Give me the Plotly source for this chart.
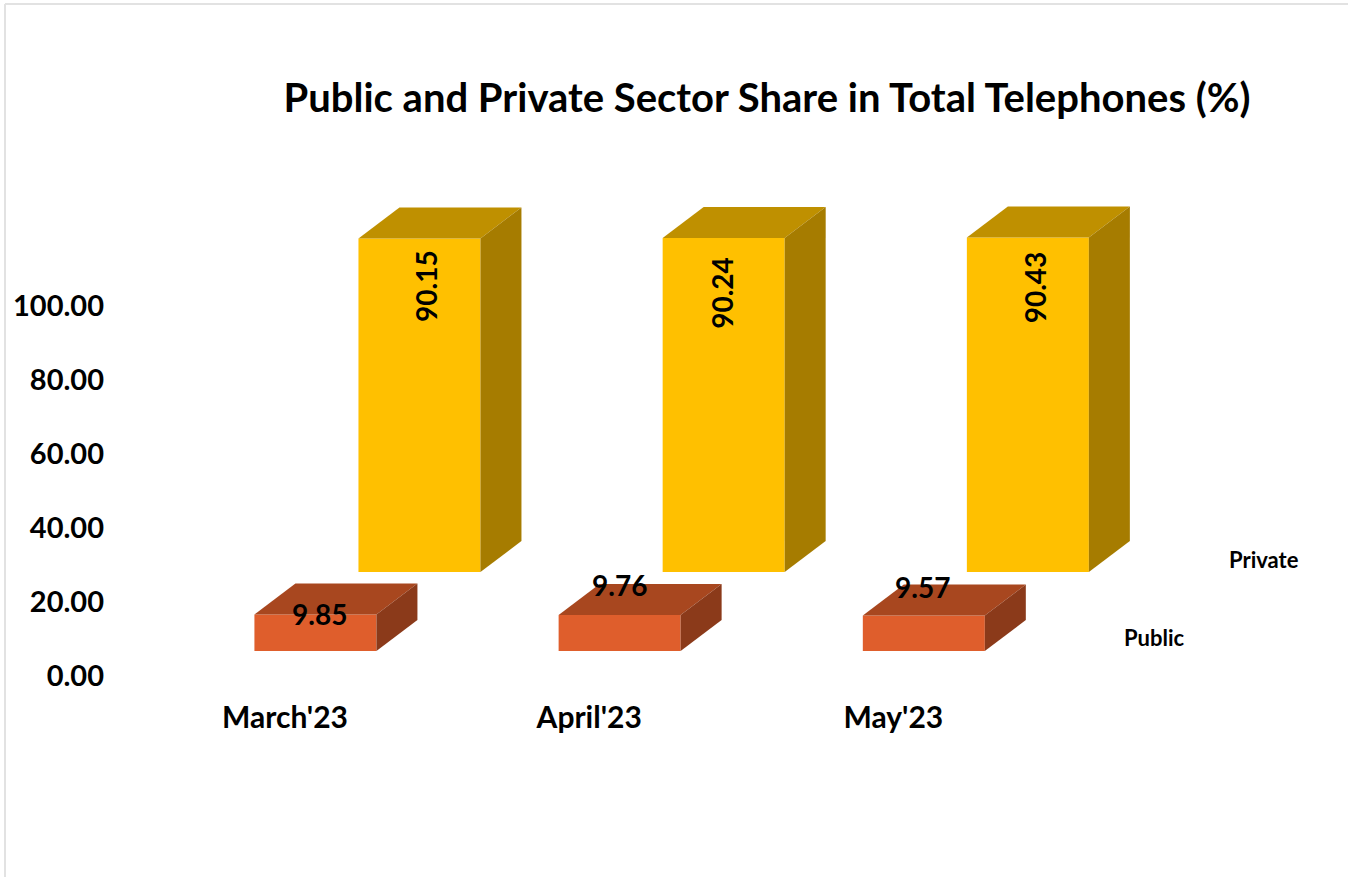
import plotly.graph_objects as go

months = ["March'23", "April'23", "May'23"]
public = [9.85, 9.76, 9.57]
private = [90.15, 90.24, 90.43]
series_names = ["Public", "Private"]
y_ticks = [0, 20, 40, 60, 80, 100]

W, H = 1348, 877
LEFT, BOTTOM_PX = 112, 693
ZERO_PX, PX_PER_VAL = 676, 3.7
CAT0_PX, PX_PER_CAT = 285, 304.2

x_range = [(LEFT - CAT0_PX) / PX_PER_CAT, (W - CAT0_PX) / PX_PER_CAT]
y_range = [(ZERO_PX - BOTTOM_PX) / PX_PER_VAL, ZERO_PX / PX_PER_VAL]

BAR_W = 122 / PX_PER_CAT
DX = 41 / PX_PER_CAT
DY = 31 / PX_PER_VAL
FONT = "Lato, Carlito, sans-serif"


def dpx(px):
    return px / PX_PER_CAT


def dpv(px):
    return px / PX_PER_VAL


fig = go.Figure()


def add_series(name, values, base, offset, front, top, side):
    xs = [i + offset for i in range(len(values))]
    fig.add_trace(go.Bar(x=xs, y=values, base=[base] * len(values), width=BAR_W,
                         marker=dict(color=front, line=dict(width=0)), name=name,
                         showlegend=False, hoverinfo="skip"))
    for xc, v in zip(xs, values):
        l, r = xc - BAR_W / 2, xc + BAR_W / 2
        b, t = base, base + v
        fig.add_trace(go.Scatter(x=[l, r, r + DX, l + DX, l], y=[t, t, t + DY, t + DY, t],
                                 mode="lines", fill="toself", fillcolor=top,
                                 line=dict(width=0, color=top), showlegend=False, hoverinfo="skip"))
        fig.add_trace(go.Scatter(x=[r, r + DX, r + DX, r, r], y=[b, b + DY, t + DY, t, b],
                                 mode="lines", fill="toself", fillcolor=side,
                                 line=dict(width=0, color=side), showlegend=False, hoverinfo="skip"))
    return xs


pub_x = add_series(series_names[0], public, dpv(25), 0.1, "#DF5E2C", "#A8471F", "#8B3A1A")
prv_x = add_series(series_names[1], private, dpv(104), 0.442, "#FFC000", "#BF9000", "#A67C00")

annotations = []

# data labels, nudged off their bars by a few pixels as in the reference
pub_nudge = [(4, 1), (0, 30), (-1, 29)]
prv_nudge = [(7, -47), (-2, -55), (8, -50)]
for xc, v, (nx, ny) in zip(pub_x, public, pub_nudge):
    annotations.append(dict(x=xc + dpx(nx), y=dpv(25) + v + dpv(ny), text=f"{v:.2f}", showarrow=False,
                            font=dict(family=FONT, size=28, color="#000000", weight="bold"),
                            xanchor="center", yanchor="middle"))
for xc, v, (nx, ny) in zip(prv_x, private, prv_nudge):
    annotations.append(dict(x=xc + dpx(nx), y=dpv(104) + v + dpv(ny), text=f"{v:.2f}", showarrow=False,
                            font=dict(family=FONT, size=28, color="#000000", weight="bold"),
                            textangle=-90, xanchor="center", yanchor="middle"))

# series names at the right
annotations.append(dict(x=(1154 - CAT0_PX) / PX_PER_CAT, y=(ZERO_PX - 637) / PX_PER_VAL, text=series_names[0],
                        showarrow=False, font=dict(family=FONT, size=22, color="#000000", weight="bold")))
annotations.append(dict(x=(1264 - CAT0_PX) / PX_PER_CAT, y=(ZERO_PX - 559) / PX_PER_VAL, text=series_names[1],
                        showarrow=False, font=dict(family=FONT, size=22, color="#000000", weight="bold")))

plot_w = W - LEFT
plot_h = BOTTOM_PX
px2paper_x = lambda p: (p - LEFT) / plot_w
px2paper_y = lambda p: (BOTTOM_PX - p) / plot_h
shapes = [
    dict(type="line", xref="paper", yref="paper", x0=px2paper_x(5), x1=px2paper_x(5),
         y0=px2paper_y(4), y1=px2paper_y(877), line=dict(color="#E2E2E2", width=2)),
    dict(type="line", xref="paper", yref="paper", x0=px2paper_x(5), x1=px2paper_x(1348),
         y0=px2paper_y(4), y1=px2paper_y(4), line=dict(color="#E2E2E2", width=2)),
]

fig.update_layout(
    width=W, height=H, autosize=False,
    margin=dict(l=LEFT, r=0, t=0, b=H - BOTTOM_PX),
    paper_bgcolor="#FFFFFF", plot_bgcolor="#FFFFFF",
    barmode="overlay", showlegend=False,
    title=dict(text="<b>Public and Private Sector Share in Total Telephones (%)</b>",
               x=767 / W, xanchor="center", xref="container",
               y=1 - 98 / H, yanchor="middle", yref="container",
               font=dict(family=FONT, size=40, color="#000000")),
    xaxis=dict(range=x_range, tickmode="array", tickvals=list(range(len(months))), ticktext=months,
               showgrid=False, zeroline=False, showline=False, ticks="",
               tickfont=dict(family=FONT, size=30, color="#000000", weight="bold"), ticklabelstandoff=4),
    yaxis=dict(range=y_range, tickmode="array", tickvals=y_ticks, ticktext=[f"{v:.2f}" for v in y_ticks],
               showgrid=False, zeroline=False, showline=False, ticks="",
               tickfont=dict(family=FONT, size=29, color="#000000", weight="bold"), ticklabelstandoff=7),
    annotations=annotations,
    shapes=shapes,
)

fig.write_html("out.html", config={"displayModeBar": False}, post_script="document.body.style.margin='0';")
